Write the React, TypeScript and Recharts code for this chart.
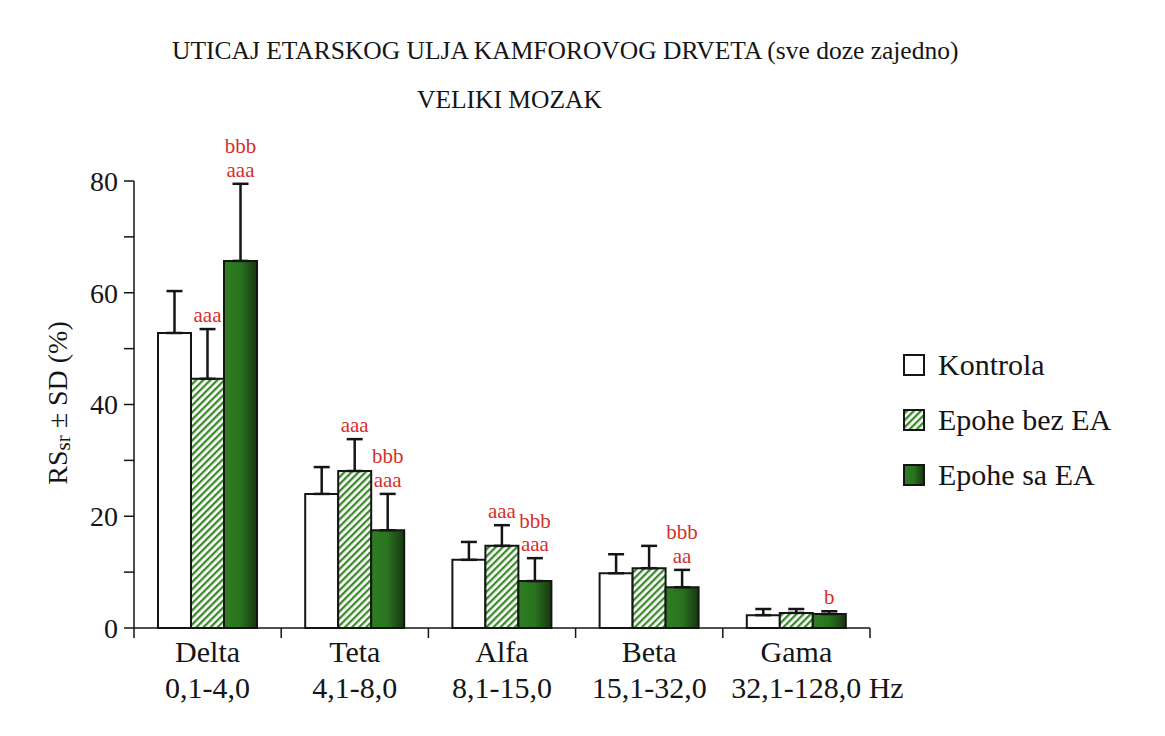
import React from 'react';
import { BarChart, Bar, XAxis, YAxis, ErrorBar, Legend, LabelList } from 'recharts';

const categories = ['Delta', 'Teta', 'Alfa', 'Beta', 'Gama'];
const ranges = ['0,1-4,0', '4,1-8,0', '8,1-15,0', '15,1-32,0', '32,1-128,0'];
const rangeSuffix = ['', '', '', '', ' Hz'];

const kontrola = [52.8, 24.0, 12.2, 9.8, 2.3];
const kontrolaSD = [7.5, 4.8, 3.2, 3.4, 1.1];
const bezEA = [44.6, 28.1, 14.7, 10.7, 2.7];
const bezEASD = [8.9, 5.7, 3.7, 4.0, 0.7];
const saEA = [65.7, 17.5, 8.4, 7.3, 2.5];
const saEASD = [13.8, 6.5, 4.1, 3.1, 0.5];

const sigKontrola: string[][] = [[], [], [], [], []];
const sigBezEA: string[][] = [['aaa'], ['aaa'], ['aaa'], [], []];
const sigSaEA: string[][] = [['bbb', 'aaa'], ['bbb', 'aaa'], ['bbb', 'aaa'], ['bbb', 'aa'], ['b']];

const yTicks = [0, 10, 20, 30, 40, 50, 60, 70, 80];
const seriesNames = ['Kontrola', 'Epohe bez EA', 'Epohe sa EA'];

const FONT = '"Liberation Serif", "Times New Roman", serif';
const RED = '#d42f2a';
const INK = '#151515';

const data = categories.map((c, i) => ({
  name: c,
  range: ranges[i],
  suffix: rangeSuffix[i],
  kontrola: kontrola[i],
  kontrolaErr: [0, kontrolaSD[i]],
  bezEA: bezEA[i],
  bezEAErr: [0, bezEASD[i]],
  saEA: saEA[i],
  saEAErr: [0, saEASD[i]],
}));

const fills = ['#ffffff', 'url(#hatch)', 'url(#greenGrad)'];

const makeSig = (sig: string[][], values: number[], sd: number[]) => (props: any) => {
  const { x, y, width, height, index } = props;
  const lines = sig[index];
  if (!lines || lines.length === 0) return null;
  const pxPerUnit = Number(height) / values[index];
  const topY = Number(y) - sd[index] * pxPerUnit;
  const cx = Number(x) + Number(width) / 2;
  return (
    <text textAnchor="middle" fill={RED} fontSize={21} fontFamily={FONT}>
      {lines.map((l, k) => (
        <tspan key={k} x={cx} y={topY - 7 - (lines.length - 1 - k) * 23.5}>
          {l}
        </tspan>
      ))}
    </text>
  );
};

const XTick = (props: any) => {
  const { x, y, payload, width } = props;
  const idx = payload.index;
  const d = data[idx];
  const bw = Number(width) / data.length;
  const suffixShift = d.suffix ? 21 : 0;
  return (
    <g>
      <line x1={x - bw / 2} x2={x - bw / 2} y1={y} y2={y + 10} stroke={INK} strokeWidth={1.5} />
      {idx === data.length - 1 && (
        <line x1={x + bw / 2} x2={x + bw / 2} y1={y} y2={y + 10} stroke={INK} strokeWidth={1.5} />
      )}
      <text x={x} y={y + 34} textAnchor="middle" fontSize={30} fontFamily={FONT} fill={INK}>
        {d.name}
      </text>
      <text x={x} dx={suffixShift} y={y + 70} textAnchor="middle" fontSize={30} fontFamily={FONT} fill={INK}>
        {d.range + d.suffix}
      </text>
    </g>
  );
};

const renderLegend = () => (
  <svg width={250} height={160} style={{ overflow: 'visible' }}>
    {seriesNames.map((n, i) => (
      <g key={n} transform={`translate(0, ${i * 55})`}>
        <rect x={2} y={10} width={20} height={20} fill={fills[i]} stroke={INK} strokeWidth={2} />
        <text x={36} y={30} fontSize={30} fontFamily={FONT} fill={INK}>
          {n}
        </text>
      </g>
    ))}
  </svg>
);

export default function App() {
  return (
    <div style={{ width: 1149, height: 720, position: 'relative' }}>
      <BarChart
        width={1149}
        height={720}
        data={data}
        margin={{ top: 173, right: 287, bottom: 99, left: 56 }}
        barCategoryGap={24}
        barGap={0}
      >
        <defs>
          <pattern id="hatch" width="5" height="5" patternUnits="userSpaceOnUse" patternTransform="rotate(45)">
            <rect width="5" height="5" fill="#ffffff" />
            <rect width="2.3" height="5" fill="#3b8a2c" />
          </pattern>
          <linearGradient id="greenGrad" x1="0" y1="0" x2="1" y2="0">
            <stop offset="0%" stopColor="#2f7f22" />
            <stop offset="50%" stopColor="#2a7220" />
            <stop offset="100%" stopColor="#173610" />
          </linearGradient>
        </defs>
        <text x={164} y={51} fontSize={25.5} fontFamily={FONT} fill={INK}>
          UTICAJ ETARSKOG ULJA KAMFOROVOG DRVETA (sve doze zajedno)
        </text>
        <text x={409} y={100} fontSize={25.5} fontFamily={FONT} fill={INK}>
          VELIKI MOZAK
        </text>
        <text
          x={49}
          y={395}
          transform="rotate(-90, 49, 395)"
          textAnchor="middle"
          dominantBaseline="central"
          fontSize={28}
          fontFamily={FONT}
          fill={INK}
        >
          RS
          <tspan fontSize={21} dy={6}>sr</tspan>
          <tspan dy={-6}> ± SD (%)</tspan>
        </text>
        <XAxis
          dataKey="name"
          height={1}
          tickLine={false}
          tickSize={0}
          tickMargin={0}
          axisLine={{ stroke: INK, strokeWidth: 1.5 }}
          tick={<XTick />}
          interval={0}
        />
        <YAxis
          width={70}
          domain={[0, 80]}
          ticks={yTicks}
          interval={0}
          tickFormatter={(v: number) => (v % 20 === 0 ? String(v) : '')}
          tickSize={10}
          tickMargin={6}
          axisLine={{ stroke: INK, strokeWidth: 1.5 }}
          tickLine={{ stroke: INK, strokeWidth: 1.5 }}
          tick={{ fontSize: 28, fontFamily: FONT, fill: INK }}
        />
        <Legend
          layout="horizontal"
          verticalAlign="middle"
          align="center"
          content={renderLegend}
          wrapperStyle={{ left: 894, top: 337, width: 250, height: 160 }}
        />
        <Bar dataKey="kontrola" name="Kontrola" fill={fills[0]} stroke={INK} strokeWidth={2} isAnimationActive={false}>
          <ErrorBar dataKey="kontrolaErr" width={8} stroke={INK} strokeWidth={2.5} direction="y" isAnimationActive={false} />
          <LabelList content={makeSig(sigKontrola, kontrola, kontrolaSD)} />
        </Bar>
        <Bar dataKey="bezEA" name="Epohe bez EA" fill={fills[1]} stroke={INK} strokeWidth={2} isAnimationActive={false}>
          <ErrorBar dataKey="bezEAErr" width={8} stroke={INK} strokeWidth={2.5} direction="y" isAnimationActive={false} />
          <LabelList content={makeSig(sigBezEA, bezEA, bezEASD)} />
        </Bar>
        <Bar dataKey="saEA" name="Epohe sa EA" fill={fills[2]} stroke={INK} strokeWidth={2} isAnimationActive={false}>
          <ErrorBar dataKey="saEAErr" width={8} stroke={INK} strokeWidth={2.5} direction="y" isAnimationActive={false} />
          <LabelList content={makeSig(sigSaEA, saEA, saEASD)} />
        </Bar>
      </BarChart>
    </div>
  );
}
